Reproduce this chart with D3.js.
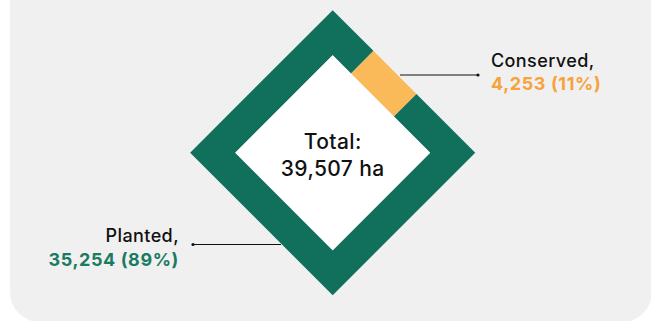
<!DOCTYPE html>
<html>
<head>
<meta charset="utf-8">
<script src="https://cdn.jsdelivr.net/npm/d3@7"></script>
<style>
  html, body { margin: 0; padding: 0; background: #ffffff; }
  svg { display: block; }
  text { font-family: "Inter", "Noto Sans", sans-serif; }
</style>
</head>
<body>
<svg id="chart" width="651" height="321"></svg>
<script>
// Land area by category (hectares)
const categories = ["Conserved", "Planted"];
const areas = [4253, 35254];
const colors = ["#fbba5a", "#11705c"];
const labelColors = ["#f7a23b", "#1b7a62"];
const totalLabel = ["Total:", "39,507 ha"];

const W = 651, H = 321;
const svg = d3.select("#chart");

// Panel background
svg.append("rect")
  .attr("x", 10).attr("y", -30)
  .attr("width", 642).attr("height", 352)
  .attr("rx", 30).attr("ry", 30)
  .attr("fill", "#f0f0f0");

const cx = 332.7, cy = 152.7;
const outerHalf = 100.8;   // half-side of outer square
const innerHalf = 68.9;    // half-side of inner square
const midHalf = (outerHalf + innerHalf) / 2;

const total = d3.sum(areas);
const startDeg = -27;
const pie = d3.pie().sort(null)
  .startAngle(startDeg * Math.PI / 180)
  .endAngle(startDeg * Math.PI / 180 + 2 * Math.PI);
const arcs = pie(areas);

// Angle (clockwise from up) -> which side of the square and position along it
function sideOf(a) {
  let t = ((a + Math.PI / 4) % (2 * Math.PI) + 2 * Math.PI) % (2 * Math.PI);
  return Math.floor(t / (Math.PI / 2)); // 0 top, 1 right, 2 bottom, 3 left
}
function cutPoint(a, half) {
  const side = sideOf(a);
  const s = side * Math.PI / 2;
  let rel = a - s;
  rel = Math.atan2(Math.sin(rel), Math.cos(rel));
  const off = midHalf * Math.tan(rel); // along-edge offset on centreline
  const p = [off, -half];
  const c = Math.cos(s), sn = Math.sin(s);
  return [p[0] * c - p[1] * sn, p[0] * sn + p[1] * c];
}
function corners(a0, a1, half) {
  const pts = [];
  for (let k = -4; k <= 8; k++) {
    const ca = Math.PI / 4 + k * Math.PI / 2;
    if (ca > a0 && ca < a1) {
      pts.push([half * Math.sin(ca) * Math.SQRT2, -half * Math.cos(ca) * Math.SQRT2]);
    }
  }
  return pts;
}
function segmentPolygon(d) {
  const a0 = d.startAngle, a1 = d.endAngle;
  const outer = [cutPoint(a0, outerHalf), ...corners(a0, a1, outerHalf), cutPoint(a1, outerHalf)];
  const inner = [cutPoint(a0, innerHalf), ...corners(a0, a1, innerHalf), cutPoint(a1, innerHalf)].reverse();
  return outer.concat(inner);
}

const g = svg.append("g")
  .attr("transform", `translate(${cx},${cy}) rotate(45)`);

g.selectAll("path.seg")
  .data(arcs)
  .join("path")
  .attr("class", "seg")
  .attr("d", d => "M" + segmentPolygon(d).map(p => p.join(",")).join("L") + "Z")
  .attr("fill", (d, i) => colors[i]);

g.append("rect")
  .attr("x", -innerHalf).attr("y", -innerHalf)
  .attr("width", 2 * innerHalf).attr("height", 2 * innerHalf)
  .attr("fill", "#ffffff");

// Centre total
[149, 176].forEach((y, k) => {
  svg.append("text")
    .attr("x", cx).attr("y", y)
    .attr("text-anchor", "middle")
    .attr("font-size", 21).attr("font-weight", 500)
    .attr("letter-spacing", 0.4)
    .attr("fill", "#111")
    .text(totalLabel[k]);
});

// Callouts
const fmt = d3.format(",");
const pct = v => Math.round(v / total * 100) + "%";
const callouts = [
  { i: 0, line: [[400, 75], [478, 75]], dot: 1, tx: 491, anchor: "start", y1: 67, y2: 90 },
  { i: 1, line: [[193, 244.5], [281, 244.5]], dot: 0, tx: 179, anchor: "end", y1: 242, y2: 266 }
];
callouts.forEach(c => {
  svg.append("line")
    .attr("x1", c.line[0][0]).attr("y1", c.line[0][1])
    .attr("x2", c.line[1][0]).attr("y2", c.line[1][1])
    .attr("stroke", "#111").attr("stroke-width", 1);
  svg.append("circle")
    .attr("cx", c.line[c.dot][0]).attr("cy", c.line[c.dot][1])
    .attr("r", 1.6).attr("fill", "#111");
  svg.append("text")
    .attr("x", c.tx).attr("y", c.y1)
    .attr("text-anchor", c.anchor)
    .attr("font-size", 18).attr("font-weight", 500)
    .attr("letter-spacing", 0.4)
    .attr("fill", "#111")
    .text(categories[c.i] + ",");
  svg.append("text")
    .attr("x", c.tx).attr("y", c.y2)
    .attr("text-anchor", c.anchor)
    .attr("font-size", 18).attr("font-weight", 700)
    .attr("letter-spacing", 0.6)
    .attr("fill", labelColors[c.i])
    .text(`${fmt(areas[c.i])} (${pct(areas[c.i])})`);
});
</script>
</body>
</html>
